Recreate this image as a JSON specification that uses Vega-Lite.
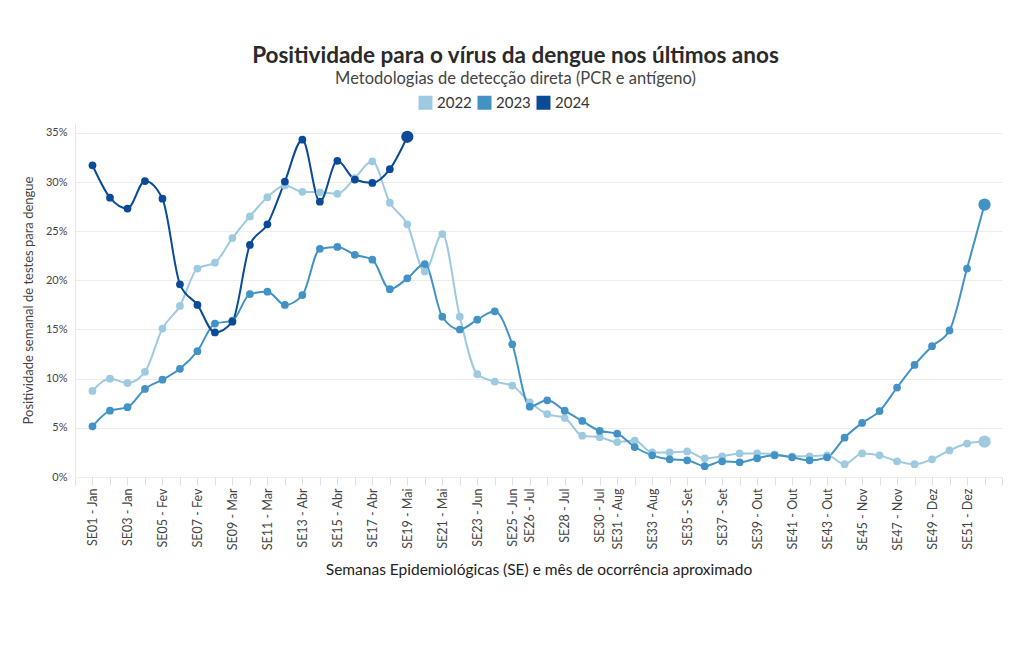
{
  "$schema": "https://vega.github.io/schema/vega-lite/v6.json",
  "width": 927,
  "height": 354,
  "autosize": {"type": "none"},
  "padding": {"left": 75, "top": 123, "right": 18, "bottom": 173},
  "background": "white",
  "title": {
    "text": "Positividade para o vírus da dengue nos últimos anos",
    "subtitle": "Metodologias de detecção direta (PCR e antígeno)",
    "anchor": "middle",
    "frame": "bounds",
    "font": "Lato",
    "fontSize": 22.5,
    "fontWeight": "bold",
    "color": "#2a2a2a",
    "subtitleFont": "Lato",
    "subtitleFontSize": 16.5,
    "subtitleColor": "#444444",
    "subtitlePadding": 3,
    "offset": 8
  },
  "data": {
    "values": [
      {"year": "2022", "week": 1, "value": 8.75},
      {"year": "2022", "week": 2, "value": 10.0},
      {"year": "2022", "week": 3, "value": 9.55},
      {"year": "2022", "week": 4, "value": 10.7},
      {"year": "2022", "week": 5, "value": 15.1},
      {"year": "2022", "week": 6, "value": 17.4},
      {"year": "2022", "week": 7, "value": 21.2},
      {"year": "2022", "week": 8, "value": 21.8},
      {"year": "2022", "week": 9, "value": 24.3},
      {"year": "2022", "week": 10, "value": 26.5},
      {"year": "2022", "week": 11, "value": 28.45},
      {"year": "2022", "week": 12, "value": 29.65},
      {"year": "2022", "week": 13, "value": 29.0},
      {"year": "2022", "week": 14, "value": 28.95},
      {"year": "2022", "week": 15, "value": 28.8},
      {"year": "2022", "week": 16, "value": 30.4},
      {"year": "2022", "week": 17, "value": 32.1},
      {"year": "2022", "week": 18, "value": 27.9},
      {"year": "2022", "week": 19, "value": 25.7},
      {"year": "2022", "week": 20, "value": 20.9},
      {"year": "2022", "week": 21, "value": 24.7},
      {"year": "2022", "week": 22, "value": 16.3},
      {"year": "2022", "week": 23, "value": 10.45},
      {"year": "2022", "week": 24, "value": 9.7},
      {"year": "2022", "week": 25, "value": 9.3},
      {"year": "2022", "week": 26, "value": 7.6},
      {"year": "2022", "week": 27, "value": 6.4},
      {"year": "2022", "week": 28, "value": 6.0},
      {"year": "2022", "week": 29, "value": 4.2},
      {"year": "2022", "week": 30, "value": 4.05},
      {"year": "2022", "week": 31, "value": 3.55},
      {"year": "2022", "week": 32, "value": 3.7},
      {"year": "2022", "week": 33, "value": 2.5},
      {"year": "2022", "week": 34, "value": 2.5},
      {"year": "2022", "week": 35, "value": 2.6},
      {"year": "2022", "week": 36, "value": 1.9},
      {"year": "2022", "week": 37, "value": 2.1},
      {"year": "2022", "week": 38, "value": 2.4},
      {"year": "2022", "week": 39, "value": 2.4},
      {"year": "2022", "week": 40, "value": 2.3},
      {"year": "2022", "week": 41, "value": 2.1},
      {"year": "2022", "week": 42, "value": 2.1},
      {"year": "2022", "week": 43, "value": 2.2},
      {"year": "2022", "week": 44, "value": 1.3},
      {"year": "2022", "week": 45, "value": 2.4},
      {"year": "2022", "week": 46, "value": 2.2},
      {"year": "2022", "week": 47, "value": 1.6},
      {"year": "2022", "week": 48, "value": 1.3},
      {"year": "2022", "week": 49, "value": 1.8},
      {"year": "2022", "week": 50, "value": 2.7},
      {"year": "2022", "week": 51, "value": 3.4},
      {"year": "2022", "week": 52, "value": 3.6},
      {"year": "2023", "week": 1, "value": 5.15},
      {"year": "2023", "week": 2, "value": 6.75},
      {"year": "2023", "week": 3, "value": 7.1},
      {"year": "2023", "week": 4, "value": 8.95},
      {"year": "2023", "week": 5, "value": 9.9},
      {"year": "2023", "week": 6, "value": 11.0},
      {"year": "2023", "week": 7, "value": 12.8},
      {"year": "2023", "week": 8, "value": 15.6},
      {"year": "2023", "week": 9, "value": 15.9},
      {"year": "2023", "week": 10, "value": 18.6},
      {"year": "2023", "week": 11, "value": 18.85},
      {"year": "2023", "week": 12, "value": 17.5},
      {"year": "2023", "week": 13, "value": 18.5},
      {"year": "2023", "week": 14, "value": 23.2},
      {"year": "2023", "week": 15, "value": 23.4},
      {"year": "2023", "week": 16, "value": 22.6},
      {"year": "2023", "week": 17, "value": 22.1},
      {"year": "2023", "week": 18, "value": 19.1},
      {"year": "2023", "week": 19, "value": 20.2},
      {"year": "2023", "week": 20, "value": 21.65},
      {"year": "2023", "week": 21, "value": 16.3},
      {"year": "2023", "week": 22, "value": 15.0},
      {"year": "2023", "week": 23, "value": 16.0},
      {"year": "2023", "week": 24, "value": 16.85},
      {"year": "2023", "week": 25, "value": 13.5},
      {"year": "2023", "week": 26, "value": 7.15},
      {"year": "2023", "week": 27, "value": 7.8},
      {"year": "2023", "week": 28, "value": 6.75},
      {"year": "2023", "week": 29, "value": 5.7},
      {"year": "2023", "week": 30, "value": 4.7},
      {"year": "2023", "week": 31, "value": 4.4},
      {"year": "2023", "week": 32, "value": 3.05},
      {"year": "2023", "week": 33, "value": 2.2},
      {"year": "2023", "week": 34, "value": 1.8},
      {"year": "2023", "week": 35, "value": 1.7},
      {"year": "2023", "week": 36, "value": 1.1},
      {"year": "2023", "week": 37, "value": 1.6},
      {"year": "2023", "week": 38, "value": 1.5},
      {"year": "2023", "week": 39, "value": 1.9},
      {"year": "2023", "week": 40, "value": 2.2},
      {"year": "2023", "week": 41, "value": 2.0},
      {"year": "2023", "week": 42, "value": 1.7},
      {"year": "2023", "week": 43, "value": 2.0},
      {"year": "2023", "week": 44, "value": 4.0},
      {"year": "2023", "week": 45, "value": 5.5},
      {"year": "2023", "week": 46, "value": 6.7},
      {"year": "2023", "week": 47, "value": 9.1},
      {"year": "2023", "week": 48, "value": 11.4},
      {"year": "2023", "week": 49, "value": 13.3},
      {"year": "2023", "week": 50, "value": 14.9},
      {"year": "2023", "week": 51, "value": 21.2},
      {"year": "2023", "week": 52, "value": 27.7},
      {"year": "2024", "week": 1, "value": 31.7},
      {"year": "2024", "week": 2, "value": 28.4},
      {"year": "2024", "week": 3, "value": 27.3},
      {"year": "2024", "week": 4, "value": 30.1},
      {"year": "2024", "week": 5, "value": 28.3},
      {"year": "2024", "week": 6, "value": 19.6},
      {"year": "2024", "week": 7, "value": 17.5},
      {"year": "2024", "week": 8, "value": 14.7},
      {"year": "2024", "week": 9, "value": 15.8},
      {"year": "2024", "week": 10, "value": 23.6},
      {"year": "2024", "week": 11, "value": 25.7},
      {"year": "2024", "week": 12, "value": 30.05},
      {"year": "2024", "week": 13, "value": 34.3},
      {"year": "2024", "week": 14, "value": 28.0},
      {"year": "2024", "week": 15, "value": 32.15},
      {"year": "2024", "week": 16, "value": 30.25},
      {"year": "2024", "week": 17, "value": 29.9},
      {"year": "2024", "week": 18, "value": 31.3},
      {"year": "2024", "week": 19, "value": 34.6}
    ]
  },
  "encoding": {
    "x": {
      "field": "week",
      "type": "quantitative",
      "scale": {"domain": [0, 53], "nice": false, "zero": false},
      "axis": {
        "title": "Semanas Epidemiológicas (SE) e mês de ocorrência aproximado",
        "values": [0,1,2,3,4,5,6,7,8,9,10,11,12,13,14,15,16,17,18,19,20,21,22,23,24,25,26,27,28,29,30,31,32,33,34,35,36,37,38,39,40,41,42,43,44,45,46,47,48,49,50,51,52,53],
        "labelExpr": "['', 'SE01 - Jan', '', 'SE03 - Jan', '', 'SE05 - Fev', '', 'SE07 - Fev', '', 'SE09 - Mar', '', 'SE11 - Mar', '', 'SE13 - Abr', '', 'SE15 - Abr', '', 'SE17 - Abr', '', 'SE19 - Mai', '', 'SE21 - Mai', '', 'SE23 - Jun', '', 'SE25 - Jun', 'SE26 - Jul', '', 'SE28 - Jul', '', 'SE30 - Jul', 'SE31 - Aug', '', 'SE33 - Aug', '', 'SE35 - Set', '', 'SE37 - Set', '', 'SE39 - Out', '', 'SE41 - Out', '', 'SE43 - Out', '', 'SE45 - Nov', '', 'SE47 - Nov', '', 'SE49 - Dez', '', 'SE51 - Dez', '', ''][datum.value]",
        "labelAngle": -90,
        "labelOverlap": false,
        "labelFont": "Lato",
        "labelFontSize": 12.5,
        "labelColor": "#444444",
        "labelPadding": 3,
        "grid": false,
        "domain": false,
        "ticks": true,
        "tickColor": "#e0e0e0",
        "tickSize": 8,
        "titleFont": "Lato",
        "titleFontSize": 15.5,
        "titleFontWeight": "normal",
        "titleColor": "#222222",
        "titlePadding": 12
      }
    },
    "y": {
      "field": "value",
      "type": "quantitative",
      "scale": {"domain": [0, 36], "nice": false},
      "axis": {
        "title": "Positividade semanal de testes para dengue",
        "values": [0, 5, 10, 15, 20, 25, 30, 35],
        "labelExpr": "datum.value + '%'",
        "labelFont": "Lato",
        "labelFontSize": 11,
        "labelColor": "#444444",
        "labelPadding": 8,
        "ticks": false,
        "domain": true,
        "domainColor": "#e8e8e8",
        "grid": true,
        "gridColor": "#ececec",
        "titleFont": "Lato",
        "titleFontSize": 13,
        "titleFontWeight": "normal",
        "titleColor": "#444444",
        "titlePadding": 10
      }
    },
    "color": {
      "field": "year",
      "type": "nominal",
      "scale": {"domain": ["2022", "2023", "2024"], "range": ["#9ecae1", "#4292c6", "#0b4a97"]},
      "legend": {
        "title": null,
        "orient": "none",
        "direction": "horizontal",
        "legendX": 343,
        "legendY": -28,
        "symbolType": "square",
        "symbolSize": 196,
        "symbolStrokeWidth": 0,
        "symbolOpacity": 1,
        "labelFont": "Lato",
        "labelFontSize": 15,
        "labelColor": "#333333",
        "labelOffset": 4,
        "columnPadding": 5
      }
    }
  },
  "layer": [
    {"mark": {"type": "line", "interpolate": "monotone", "strokeWidth": 2}},
    {"mark": {"type": "point", "filled": true, "size": 60, "opacity": 1}},
    {
      "transform": [
        {"joinaggregate": [{"op": "max", "field": "week", "as": "maxweek"}], "groupby": ["year"]},
        {"filter": "datum.week == datum.maxweek"}
      ],
      "mark": {"type": "point", "filled": true, "size": 150, "opacity": 1}
    }
  ],
  "config": {
    "view": {"stroke": null}
  }
}
